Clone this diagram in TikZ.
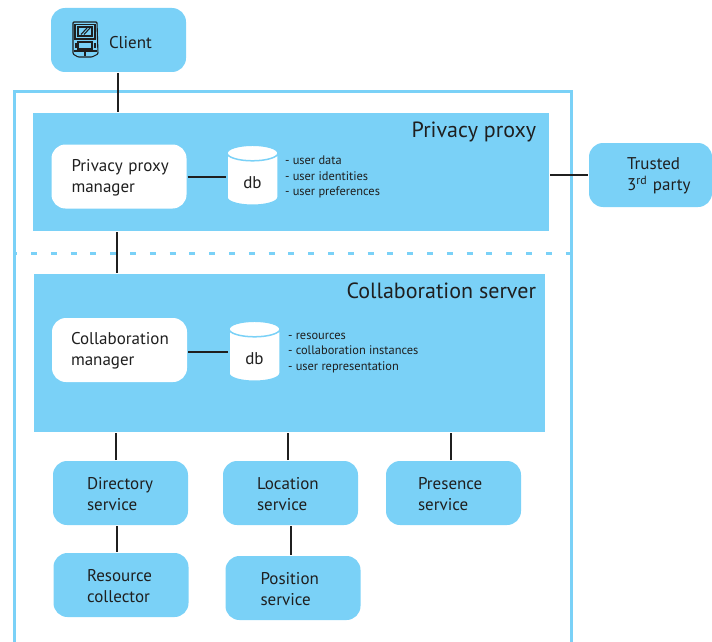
\documentclass[tikz,border=0pt]{standalone}
\usepackage{fontspec}
\setmainfont{PT Sans}
\usetikzlibrary{shapes.geometric}
\definecolor{sky}{HTML}{7AD1F7}
\definecolor{ink}{HTML}{1F1F1F}
\begin{document}
\begin{tikzpicture}[x=1pt,y=-1pt,line width=2pt,draw=ink,text=ink,node distance=170pt]
  \tikzstyle{panel}=[fill=sky,inner sep=0pt]
  \tikzstyle{service}=[fill=sky,rounded corners=14pt,minimum width=135pt,minimum height=64pt,
                       inner xsep=0pt,align=left,font=\fontsize{17}{21}\selectfont,
                       execute at begin node={\rule{0pt}{14pt}}]
  \tikzstyle{manager}=[service,fill=white]
  \tikzstyle{db}=[cylinder,shape border rotate=90,aspect=0.85,minimum width=51pt,minimum height=60pt,
                  inner sep=0pt,draw=sky,line width=1.5pt,cylinder uses custom fill,
                  cylinder body fill=white,cylinder end fill=white,font=\fontsize{17}{20}\selectfont]
  \tikzstyle{datalist}=[anchor=west,align=left,inner sep=0pt,font=\fontsize{12.4}{15.5}\selectfont]
  \tikzstyle{title}=[anchor=north east,inner sep=0pt,font=\fontsize{22}{25}\selectfont]
  \tikzstyle{frame}=[draw=sky,line width=3pt]

  \useasboundingbox (0,0) rectangle (712,642);

  % outer frame, open at the bottom
  \coordinate (frameBL) at (14,642);
  \coordinate (frameTL) at (14,91);
  \coordinate (frameTR) at (571,91);
  \coordinate (frameBR) at (571,642);
  \coordinate (sepL) at (14,253.5);
  \coordinate (sepR) at (571,253.5);
  \draw[frame] (frameBL) -- (frameTL) -- (frameTR) -- (frameBR);
  \draw[draw=sky,line width=3.5pt,dash pattern=on 6pt off 13.8pt,dash phase=2.8pt] (sepL) -- (sepR);

  \node[panel,minimum width=516pt,minimum height=118pt] (proxy) at (291,172) {};
  \node[panel,minimum width=511pt,minimum height=158pt] (collab) at (289.5,353) {};
  \node[title] (proxytitle) at (537,121) {Privacy proxy};
  \node[title] (collabtitle) at (537,282) {Collaboration server};

  \node[service,text width=95pt] (client) at (118.5,40) {\rule{0pt}{18pt}\hspace*{38pt}Client};
  \node[service,minimum width=123pt,text width=47pt] (trusted) at (650.5,175) {Trusted\\3\textsuperscript{rd}~party};

  \node[manager,text width=95pt] (proxymgr) at (119,176.5) {Privacy~proxy\\manager};
  \node[db] (proxydb) at (252.5,179.5) {\raisebox{-3.5pt}[\height][\depth]{db}};
  \node[datalist] (proxydata) at (284,177) {- user data\\- user identities\\- user preferences};

  \node[manager,text width=97pt] (collabmgr) at (119.5,350) {Collaboration\\manager};
  \node[db] (collabdb) at (254.5,355.5) {\raisebox{-3.5pt}[\height][\depth]{db}};
  \node[datalist] (collabdata) at (287,353) {- resources\\- collaboration instances\\- user representation};

  \node[service,text width=67pt] (directory) at (120.5,493) {Directory\\service};
  \node[service,text width=67pt] (location) [right of=directory] {Location\\service};
  \node[service,text width=71pt] (presence) [right of=location,node distance=163pt] {Presence\\service};
  \node[service,text width=68pt] (resource) at (121,585) {Resource\\collector};
  \node[service,text width=65pt] (position) at (293,588) {Position\\service};

  % handheld icon of the client
  \begin{scope}[line width=1.1pt,xshift=72pt,yshift=-21pt]
    \draw[rounded corners=1pt] (1,1) -- (25,1) -- (26,33) -- (20,36) -- (6,36) -- (1,33) -- cycle;
    \draw (3,3.5) rectangle (23,18);
    \draw (6,6) rectangle (20,15);
    \draw (9,13.5) -- (15,7) (12,13.5) -- (18,7);
    \draw (6,21) rectangle (20,28);
    \draw[line width=2pt] (3.5,22) -- (3.5,27) (22.5,22) -- (22.5,27);
    \draw (2,30) -- (25,30) (13,29) -- (13,35);
  \end{scope}

  \draw ([xshift=-0.5pt]client.south) -- ([xshift=-0.5pt]client.south |- proxy.north);
  \draw ([xshift=-2pt]proxymgr.south |- proxy.south) -- ([xshift=-2pt]proxymgr.south |- collab.north);
  \draw (proxymgr.east) -- (proxymgr.east -| proxydb.west);
  \draw ([yshift=-2pt]collabmgr.east) -- ([yshift=-2pt]collabmgr.east -| collabdb.west);
  \draw (proxy.east |- trusted.west) -- (trusted.west);
  \draw ([xshift=-4.5pt]directory.north) -- ([xshift=-4.5pt]directory.north |- collab.south);
  \draw ([xshift=-3pt]location.north) -- ([xshift=-3pt]location.north |- collab.south);
  \draw ([xshift=-3pt]presence.north) -- ([xshift=-3pt]presence.north |- collab.south);
  \draw ([xshift=-3.5pt]directory.south) -- ([xshift=-3.5pt]directory.south |- resource.north);
  \draw ([xshift=0.5pt]location.south) -- ([xshift=0.5pt]location.south |- position.north);
\end{tikzpicture}
\end{document}
